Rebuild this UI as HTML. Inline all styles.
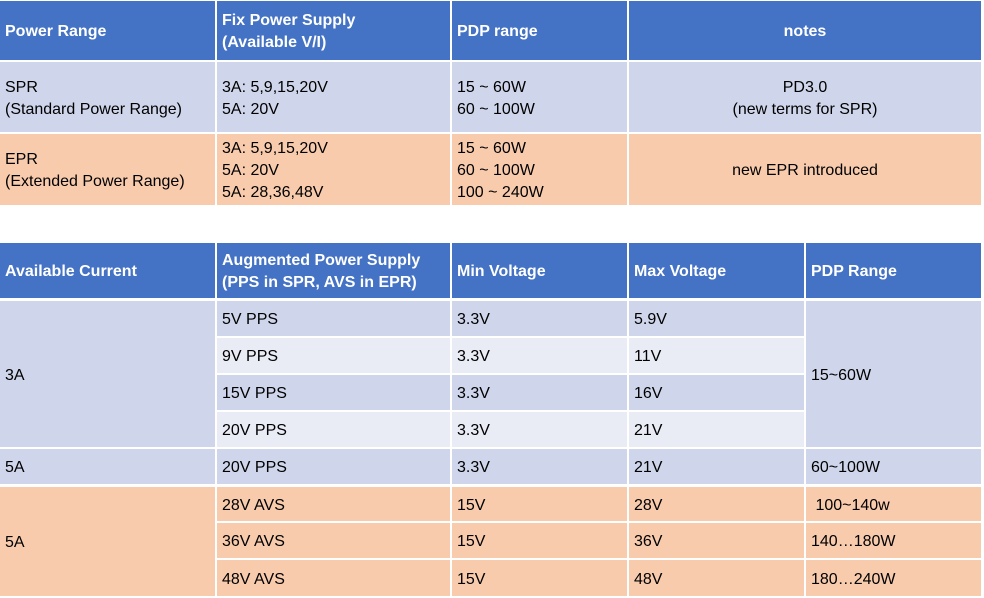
<!DOCTYPE html>
<html><head><meta charset="utf-8"><style>
body{margin:0;width:984px;height:598px;background:#fff;position:relative;overflow:hidden;font-family:"Liberation Sans",Arial,sans-serif;font-size:16px;color:#000}
.c{position:absolute;display:flex;align-items:center;padding-left:5px;padding-top:3px;box-sizing:border-box;line-height:22px}
.h{background:#4472C4;color:#fff;font-weight:bold}
.b{background:#CFD5EA}.l{background:#E9EBF5}.o{background:#F8CBAD}
.ctr{justify-content:center;text-align:center;padding-left:0}
</style></head><body>
<div class="c h" style="left:0;top:1px;width:215px;height:59px">Power Range</div>
<div class="c h" style="left:217px;top:1px;width:233px;height:59px">Fix Power Supply<br>(Available V/I)</div>
<div class="c h" style="left:452px;top:1px;width:175px;height:59px">PDP range</div>
<div class="c h ctr" style="left:629px;top:1px;width:352px;height:59px">notes</div>

<div class="c b" style="left:0;top:62px;width:215px;height:70px">SPR<br>(Standard Power Range)</div>
<div class="c b" style="left:217px;top:62px;width:233px;height:70px">3A: 5,9,15,20V<br>5A: 20V</div>
<div class="c b" style="left:452px;top:62px;width:175px;height:70px">15 ~ 60W<br>60 ~ 100W</div>
<div class="c b ctr" style="left:629px;top:62px;width:352px;height:70px">PD3.0<br>(new terms for SPR)</div>

<div class="c o" style="left:0;top:134px;width:215px;height:71px">EPR<br>(Extended Power Range)</div>
<div class="c o" style="left:217px;top:134px;width:233px;height:71px">3A: 5,9,15,20V<br>5A: 20V<br>5A: 28,36,48V</div>
<div class="c o" style="left:452px;top:134px;width:175px;height:71px">15 ~ 60W<br>60 ~ 100W<br>100 ~ 240W</div>
<div class="c o ctr" style="left:629px;top:134px;width:352px;height:71px">new EPR introduced</div>

<div class="c h" style="left:0;top:243px;width:215px;height:55px">Available Current</div>
<div class="c h" style="left:217px;top:243px;width:233px;height:55px">Augmented Power Supply<br>(PPS in SPR, AVS in EPR)</div>
<div class="c h" style="left:452px;top:243px;width:175px;height:55px">Min Voltage</div>
<div class="c h" style="left:629px;top:243px;width:175px;height:55px">Max Voltage</div>
<div class="c h" style="left:806px;top:243px;width:175px;height:55px">PDP Range</div>

<div class="c b" style="left:0;top:301px;width:215px;height:146px">3A</div>
<div class="c b" style="left:806px;top:301px;width:175px;height:146px">15~60W</div>

<div class="c b" style="left:217px;top:301px;width:233px;height:35px">5V PPS</div>
<div class="c b" style="left:452px;top:301px;width:175px;height:35px">3.3V</div>
<div class="c b" style="left:629px;top:301px;width:175px;height:35px">5.9V</div>

<div class="c l" style="left:217px;top:338px;width:233px;height:35px">9V PPS</div>
<div class="c l" style="left:452px;top:338px;width:175px;height:35px">3.3V</div>
<div class="c l" style="left:629px;top:338px;width:175px;height:35px">11V</div>

<div class="c b" style="left:217px;top:375px;width:233px;height:35px">15V PPS</div>
<div class="c b" style="left:452px;top:375px;width:175px;height:35px">3.3V</div>
<div class="c b" style="left:629px;top:375px;width:175px;height:35px">16V</div>

<div class="c l" style="left:217px;top:412px;width:233px;height:35px">20V PPS</div>
<div class="c l" style="left:452px;top:412px;width:175px;height:35px">3.3V</div>
<div class="c l" style="left:629px;top:412px;width:175px;height:35px">21V</div>

<div class="c b" style="left:0;top:449px;width:215px;height:35px">5A</div>
<div class="c b" style="left:217px;top:449px;width:233px;height:35px">20V PPS</div>
<div class="c b" style="left:452px;top:449px;width:175px;height:35px">3.3V</div>
<div class="c b" style="left:629px;top:449px;width:175px;height:35px">21V</div>
<div class="c b" style="left:806px;top:449px;width:175px;height:35px">60~100W</div>

<div class="c o" style="left:0;top:487px;width:215px;height:109px">5A</div>
<div class="c o" style="left:217px;top:487px;width:233px;height:34px">28V AVS</div>
<div class="c o" style="left:452px;top:487px;width:175px;height:34px">15V</div>
<div class="c o" style="left:629px;top:487px;width:175px;height:34px">28V</div>
<div class="c o" style="left:806px;top:487px;width:175px;height:34px">&nbsp;100~140w</div>

<div class="c o" style="left:217px;top:523px;width:233px;height:35px">36V AVS</div>
<div class="c o" style="left:452px;top:523px;width:175px;height:35px">15V</div>
<div class="c o" style="left:629px;top:523px;width:175px;height:35px">36V</div>
<div class="c o" style="left:806px;top:523px;width:175px;height:35px">140…180W</div>

<div class="c o" style="left:217px;top:560px;width:233px;height:36px">48V AVS</div>
<div class="c o" style="left:452px;top:560px;width:175px;height:36px">15V</div>
<div class="c o" style="left:629px;top:560px;width:175px;height:36px">48V</div>
<div class="c o" style="left:806px;top:560px;width:175px;height:36px">180…240W</div>
</body></html>
